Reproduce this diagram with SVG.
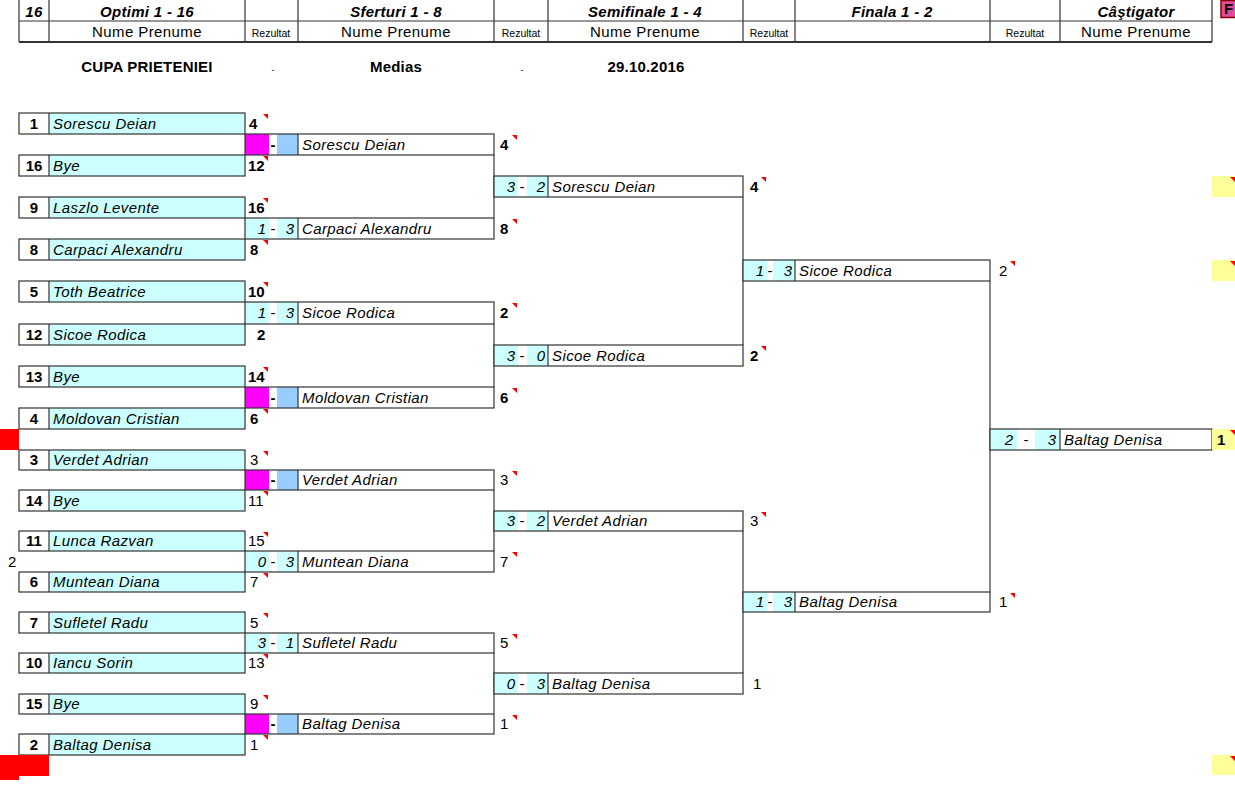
<svg xmlns="http://www.w3.org/2000/svg" xmlns:xlink="http://www.w3.org/1999/xlink" width="1235" height="800" viewBox="0 0 1235 800">
<style>
text{font-family:"Liberation Sans",Arial,sans-serif;fill:#000}
.hd{font-size:15px;font-weight:bold;font-style:italic;text-anchor:middle;letter-spacing:0.3px}
.np{font-size:15px;text-anchor:middle;letter-spacing:0.4px}
.rz{font-size:10.5px;text-anchor:middle}
.tt{font-size:15px;font-weight:bold;text-anchor:middle;letter-spacing:0.2px}
.seed{font-size:15px;font-weight:bold;text-anchor:middle}
.nm{font-size:15px;font-style:italic;letter-spacing:0.4px}
.rb{font-size:15px;font-weight:bold}
.rn{font-size:15px}
.sc{font-size:15px;font-style:italic;text-anchor:end}
.ds{font-size:15px;text-anchor:middle}
.dsb{font-size:15px;font-weight:bold;text-anchor:middle}
.bx{fill:none;stroke:#333;stroke-width:1.2}
.ln{stroke:#333;stroke-width:1.2}
.cn{stroke:#555;stroke-width:1.4;fill:none}
.cy{fill:#CCFFFF}
.mg{fill:#FF00FF}
.lb{fill:#99CCFF}
.ye{fill:#FFFF99}
.rd{fill:#FF0000}
</style>
<defs>
<polygon id="mk" points="-6,1 -1,1 -1,6" fill="#FF0000"/>
</defs>
<rect width="1235" height="800" fill="#fff"/>

<g id="header">
<line class="ln" x1="19" y1="21" x2="1212" y2="21"/>
<line x1="19" y1="42" x2="1212" y2="42" stroke="#333" stroke-width="2"/>
<g class="ln">
<line x1="19" y1="0" x2="19" y2="42"/><line x1="49" y1="0" x2="49" y2="42"/>
<line x1="245" y1="0" x2="245" y2="42"/><line x1="298" y1="0" x2="298" y2="42"/>
<line x1="494" y1="0" x2="494" y2="42"/><line x1="548" y1="0" x2="548" y2="42"/>
<line x1="743" y1="0" x2="743" y2="42"/><line x1="795" y1="0" x2="795" y2="42"/>
<line x1="990" y1="0" x2="990" y2="42"/><line x1="1060" y1="0" x2="1060" y2="42"/>
<line x1="1212" y1="0" x2="1212" y2="42"/>
</g>
<text class="hd" x="34" y="17">16</text>
<text class="hd" x="147" y="17">Optimi 1 - 16</text>
<text class="hd" x="396" y="17">Sferturi 1 - 8</text>
<text class="hd" x="645" y="17">Semifinale 1 - 4</text>
<text class="hd" x="892" y="17">Finala 1 - 2</text>
<text class="hd" x="1136" y="17">Câştigator</text>
<text class="np" x="147" y="37">Nume Prenume</text>
<text class="rz" x="271" y="37">Rezultat</text>
<text class="np" x="396" y="37">Nume Prenume</text>
<text class="rz" x="521" y="37">Rezultat</text>
<text class="np" x="645" y="37">Nume Prenume</text>
<text class="rz" x="769" y="37">Rezultat</text>
<text class="rz" x="1025" y="37">Rezultat</text>
<text class="np" x="1136" y="37">Nume Prenume</text>
</g>

<g id="fbutton">
<rect x="1221" y="0.5" width="16" height="17" fill="#E04C9C" stroke="#8B0000" stroke-width="1.5"/>
<text x="1224" y="14" font-size="15" font-weight="bold">F</text>
</g>

<g id="title">
<text class="tt" x="147" y="72">CUPA PRIETENIEI</text>
<text x="273" y="73" font-size="9" text-anchor="middle">-</text>
<text class="tt" x="396" y="72">Medias</text>
<text x="522" y="73" font-size="9" text-anchor="middle">-</text>
<text class="tt" x="646" y="72">29.10.2016</text>
</g>

<g id="connectors" class="cn">
<line x1="494" y1="155" x2="494" y2="218"/>
<line x1="494" y1="324" x2="494" y2="387"/>
<line x1="494" y1="490" x2="494" y2="551"/>
<line x1="494" y1="653" x2="494" y2="714"/>
<line x1="743" y1="197" x2="743" y2="345"/>
<line x1="743" y1="531" x2="743" y2="673"/>
<line x1="990" y1="281" x2="990" y2="592"/>
</g>

<!-- Round 1 -->
<g id="r1-1"><rect class="cy" x="49" y="113" width="196" height="21"/><rect class="bx" x="19" y="113" width="226" height="21"/><line class="ln" x1="49" y1="113" x2="49" y2="134"/><text class="seed" x="34" y="129">1</text><text class="nm" x="53" y="129">Sorescu Deian</text><text class="rb" x="249" y="129">4</text><use xlink:href="#mk" x="269" y="113"/></g>
<g id="r1-16"><rect class="cy" x="49" y="155" width="196" height="21"/><rect class="bx" x="19" y="155" width="226" height="21"/><line class="ln" x1="49" y1="155" x2="49" y2="176"/><text class="seed" x="34" y="171">16</text><text class="nm" x="53" y="171">Bye</text><text class="rb" x="248" y="171">12</text><use xlink:href="#mk" x="269" y="155"/></g>
<g id="r1-9"><rect class="cy" x="49" y="197" width="196" height="21"/><rect class="bx" x="19" y="197" width="226" height="21"/><line class="ln" x1="49" y1="197" x2="49" y2="218"/><text class="seed" x="34" y="213">9</text><text class="nm" x="53" y="213">Laszlo Levente</text><text class="rb" x="248" y="213">16</text><use xlink:href="#mk" x="269" y="197"/></g>
<g id="r1-8"><rect class="cy" x="49" y="239" width="196" height="21"/><rect class="bx" x="19" y="239" width="226" height="21"/><line class="ln" x1="49" y1="239" x2="49" y2="260"/><text class="seed" x="34" y="255">8</text><text class="nm" x="53" y="255">Carpaci Alexandru</text><text class="rb" x="250" y="255">8</text><use xlink:href="#mk" x="269" y="239"/></g>
<g id="r1-5"><rect class="cy" x="49" y="281" width="196" height="21"/><rect class="bx" x="19" y="281" width="226" height="21"/><line class="ln" x1="49" y1="281" x2="49" y2="302"/><text class="seed" x="34" y="297">5</text><text class="nm" x="53" y="297">Toth Beatrice</text><text class="rb" x="248" y="297">10</text><use xlink:href="#mk" x="269" y="281"/></g>
<g id="r1-12"><rect class="cy" x="49" y="324" width="196" height="21"/><rect class="bx" x="19" y="324" width="226" height="21"/><line class="ln" x1="49" y1="324" x2="49" y2="345"/><text class="seed" x="34" y="340">12</text><text class="nm" x="53" y="340">Sicoe Rodica</text><text class="rb" x="257" y="340">2</text></g>
<g id="r1-13"><rect class="cy" x="49" y="366" width="196" height="21"/><rect class="bx" x="19" y="366" width="226" height="21"/><line class="ln" x1="49" y1="366" x2="49" y2="387"/><text class="seed" x="34" y="382">13</text><text class="nm" x="53" y="382">Bye</text><text class="rb" x="248" y="382">14</text><use xlink:href="#mk" x="269" y="366"/></g>
<g id="r1-4"><rect class="cy" x="49" y="408" width="196" height="21"/><rect class="bx" x="19" y="408" width="226" height="21"/><line class="ln" x1="49" y1="408" x2="49" y2="429"/><text class="seed" x="34" y="424">4</text><text class="nm" x="53" y="424">Moldovan Cristian</text><text class="rb" x="250" y="424">6</text><use xlink:href="#mk" x="269" y="408"/></g>
<g id="r1-3"><rect class="cy" x="49" y="450" width="196" height="20"/><rect class="bx" x="19" y="450" width="226" height="20"/><line class="ln" x1="49" y1="450" x2="49" y2="470"/><text class="seed" x="34" y="465">3</text><text class="nm" x="53" y="465">Verdet Adrian</text><text class="rn" x="250" y="465">3</text><use xlink:href="#mk" x="269" y="450"/></g>
<g id="r1-14"><rect class="cy" x="49" y="490" width="196" height="21"/><rect class="bx" x="19" y="490" width="226" height="21"/><line class="ln" x1="49" y1="490" x2="49" y2="511"/><text class="seed" x="34" y="506">14</text><text class="nm" x="53" y="506">Bye</text><text class="rn" x="248" y="506">11</text><use xlink:href="#mk" x="269" y="490"/></g>
<g id="r1-11"><rect class="cy" x="49" y="531" width="196" height="20"/><rect class="bx" x="19" y="531" width="226" height="20"/><line class="ln" x1="49" y1="531" x2="49" y2="551"/><text class="seed" x="34" y="546">11</text><text class="nm" x="53" y="546">Lunca Razvan</text><text class="rn" x="248" y="546">15</text><use xlink:href="#mk" x="269" y="531"/></g>
<g id="r1-6"><rect class="cy" x="49" y="572" width="196" height="20"/><rect class="bx" x="19" y="572" width="226" height="20"/><line class="ln" x1="49" y1="572" x2="49" y2="592"/><text class="seed" x="34" y="587">6</text><text class="nm" x="53" y="587">Muntean Diana</text><text class="rn" x="250" y="587">7</text><use xlink:href="#mk" x="269" y="572"/></g>
<g id="r1-7"><rect class="cy" x="49" y="612" width="196" height="21"/><rect class="bx" x="19" y="612" width="226" height="21"/><line class="ln" x1="49" y1="612" x2="49" y2="633"/><text class="seed" x="34" y="628">7</text><text class="nm" x="53" y="628">Sufletel Radu</text><text class="rn" x="250" y="628">5</text><use xlink:href="#mk" x="269" y="612"/></g>
<g id="r1-10"><rect class="cy" x="49" y="653" width="196" height="20"/><rect class="bx" x="19" y="653" width="226" height="20"/><line class="ln" x1="49" y1="653" x2="49" y2="673"/><text class="seed" x="34" y="668">10</text><text class="nm" x="53" y="668">Iancu Sorin</text><text class="rn" x="248" y="668">13</text><use xlink:href="#mk" x="269" y="653"/></g>
<g id="r1-15"><rect class="cy" x="49" y="694" width="196" height="20"/><rect class="bx" x="19" y="694" width="226" height="20"/><line class="ln" x1="49" y1="694" x2="49" y2="714"/><text class="seed" x="34" y="709">15</text><text class="nm" x="53" y="709">Bye</text><text class="rn" x="250" y="709">9</text><use xlink:href="#mk" x="269" y="694"/></g>
<g id="r1-2"><rect class="cy" x="49" y="734" width="196" height="21"/><rect class="bx" x="19" y="734" width="226" height="21"/><line class="ln" x1="49" y1="734" x2="49" y2="755"/><text class="seed" x="34" y="750">2</text><text class="nm" x="53" y="750">Baltag Denisa</text><text class="rn" x="250" y="750">1</text><use xlink:href="#mk" x="269" y="734"/></g>

<!-- Sferturi -->
<g id="qf1"><rect class="mg" x="245" y="134" width="24" height="21"/><rect class="lb" x="277" y="134" width="21" height="21"/><rect class="bx" x="245" y="134" width="249" height="21"/><line class="ln" x1="298" y1="134" x2="298" y2="155"/><text class="dsb" x="273" y="150">-</text><text class="nm" x="302" y="150">Sorescu Deian</text><text class="rb" x="500" y="150">4</text><use xlink:href="#mk" x="518" y="134"/></g>
<g id="qf2"><rect class="cy" x="245" y="218" width="24" height="21"/><rect class="cy" x="277" y="218" width="21" height="21"/><rect class="bx" x="245" y="218" width="249" height="21"/><line class="ln" x1="298" y1="218" x2="298" y2="239"/><text class="sc" x="266" y="234">1</text><text class="ds" x="273" y="234">-</text><text class="sc" x="294" y="234">3</text><text class="nm" x="302" y="234">Carpaci Alexandru</text><text class="rb" x="500" y="234">8</text><use xlink:href="#mk" x="518" y="218"/></g>
<g id="qf3"><rect class="cy" x="245" y="302" width="24" height="22"/><rect class="cy" x="277" y="302" width="21" height="22"/><rect class="bx" x="245" y="302" width="249" height="22"/><line class="ln" x1="298" y1="302" x2="298" y2="324"/><text class="sc" x="266" y="318">1</text><text class="ds" x="273" y="318">-</text><text class="sc" x="294" y="318">3</text><text class="nm" x="302" y="318">Sicoe Rodica</text><text class="rb" x="500" y="318">2</text><use xlink:href="#mk" x="518" y="302"/></g>
<g id="qf4"><rect class="mg" x="245" y="387" width="24" height="21"/><rect class="lb" x="277" y="387" width="21" height="21"/><rect class="bx" x="245" y="387" width="249" height="21"/><line class="ln" x1="298" y1="387" x2="298" y2="408"/><text class="dsb" x="273" y="403">-</text><text class="nm" x="302" y="403">Moldovan Cristian</text><text class="rb" x="500" y="403">6</text><use xlink:href="#mk" x="518" y="387"/></g>
<g id="qf5"><rect class="mg" x="245" y="470" width="24" height="20"/><rect class="lb" x="277" y="470" width="21" height="20"/><rect class="bx" x="245" y="470" width="249" height="20"/><line class="ln" x1="298" y1="470" x2="298" y2="490"/><text class="dsb" x="273" y="485">-</text><text class="nm" x="302" y="485">Verdet Adrian</text><text class="rn" x="500" y="485">3</text><use xlink:href="#mk" x="518" y="470"/></g>
<g id="qf6"><rect class="cy" x="245" y="551" width="24" height="21"/><rect class="cy" x="277" y="551" width="21" height="21"/><rect class="bx" x="245" y="551" width="249" height="21"/><line class="ln" x1="298" y1="551" x2="298" y2="572"/><text class="sc" x="266" y="567">0</text><text class="ds" x="273" y="567">-</text><text class="sc" x="294" y="567">3</text><text class="nm" x="302" y="567">Muntean Diana</text><text class="rn" x="500" y="567">7</text><use xlink:href="#mk" x="518" y="551"/></g>
<g id="qf7"><rect class="cy" x="245" y="633" width="24" height="20"/><rect class="cy" x="277" y="633" width="21" height="20"/><rect class="bx" x="245" y="633" width="249" height="20"/><line class="ln" x1="298" y1="633" x2="298" y2="653"/><text class="sc" x="266" y="648">3</text><text class="ds" x="273" y="648">-</text><text class="sc" x="294" y="648">1</text><text class="nm" x="302" y="648">Sufletel Radu</text><text class="rn" x="500" y="648">5</text><use xlink:href="#mk" x="518" y="633"/></g>
<g id="qf8"><rect class="mg" x="245" y="714" width="24" height="20"/><rect class="lb" x="277" y="714" width="21" height="20"/><rect class="bx" x="245" y="714" width="249" height="20"/><line class="ln" x1="298" y1="714" x2="298" y2="734"/><text class="dsb" x="273" y="729">-</text><text class="nm" x="302" y="729">Baltag Denisa</text><text class="rn" x="500" y="729">1</text><use xlink:href="#mk" x="518" y="714"/></g>

<!-- Semifinale -->
<g id="sf1"><rect class="cy" x="494" y="176" width="24" height="21"/><rect class="cy" x="527" y="176" width="21" height="21"/><rect class="bx" x="494" y="176" width="249" height="21"/><line class="ln" x1="548" y1="176" x2="548" y2="197"/><text class="sc" x="515" y="192">3</text><text class="ds" x="522" y="192">-</text><text class="sc" x="545" y="192">2</text><text class="nm" x="552" y="192">Sorescu Deian</text><text class="rb" x="750" y="192">4</text><use xlink:href="#mk" x="767" y="176"/></g>
<g id="sf2"><rect class="cy" x="494" y="345" width="24" height="21"/><rect class="cy" x="527" y="345" width="21" height="21"/><rect class="bx" x="494" y="345" width="249" height="21"/><line class="ln" x1="548" y1="345" x2="548" y2="366"/><text class="sc" x="515" y="361">3</text><text class="ds" x="522" y="361">-</text><text class="sc" x="545" y="361">0</text><text class="nm" x="552" y="361">Sicoe Rodica</text><text class="rb" x="750" y="361">2</text><use xlink:href="#mk" x="767" y="345"/></g>
<g id="sf3"><rect class="cy" x="494" y="511" width="24" height="20"/><rect class="cy" x="527" y="511" width="21" height="20"/><rect class="bx" x="494" y="511" width="249" height="20"/><line class="ln" x1="548" y1="511" x2="548" y2="531"/><text class="sc" x="515" y="526">3</text><text class="ds" x="522" y="526">-</text><text class="sc" x="545" y="526">2</text><text class="nm" x="552" y="526">Verdet Adrian</text><text class="rn" x="750" y="526">3</text><use xlink:href="#mk" x="767" y="511"/></g>
<g id="sf4"><rect class="cy" x="494" y="673" width="24" height="21"/><rect class="cy" x="527" y="673" width="21" height="21"/><rect class="bx" x="494" y="673" width="249" height="21"/><line class="ln" x1="548" y1="673" x2="548" y2="694"/><text class="sc" x="515" y="689">0</text><text class="ds" x="522" y="689">-</text><text class="sc" x="545" y="689">3</text><text class="nm" x="552" y="689">Baltag Denisa</text><text class="rn" x="753" y="689">1</text></g>

<!-- Finala 1-2 -->
<g id="f1"><rect class="cy" x="743" y="260" width="24" height="21"/><rect class="cy" x="773" y="260" width="22" height="21"/><rect class="bx" x="743" y="260" width="247" height="21"/><line class="ln" x1="795" y1="260" x2="795" y2="281"/><text class="sc" x="764" y="276">1</text><text class="ds" x="770" y="276">-</text><text class="sc" x="792" y="276">3</text><text class="nm" x="799" y="276">Sicoe Rodica</text><text class="rn" x="999" y="276">2</text><use xlink:href="#mk" x="1016" y="260"/></g>
<g id="f2"><rect class="cy" x="743" y="592" width="24" height="20"/><rect class="cy" x="773" y="592" width="22" height="20"/><rect class="bx" x="743" y="592" width="247" height="20"/><line class="ln" x1="795" y1="592" x2="795" y2="612"/><text class="sc" x="764" y="607">1</text><text class="ds" x="770" y="607">-</text><text class="sc" x="792" y="607">3</text><text class="nm" x="799" y="607">Baltag Denisa</text><text class="rn" x="999" y="607">1</text><use xlink:href="#mk" x="1016" y="592"/></g>

<!-- Final -->
<g id="final"><rect class="cy" x="990" y="429" width="27" height="21"/><rect class="cy" x="1035" y="429" width="25" height="21"/><rect class="bx" x="990" y="429" width="222" height="21"/><line class="ln" x1="1060" y1="429" x2="1060" y2="450"/><text class="sc" x="1013" y="445">2</text><text class="ds" x="1026" y="445">-</text><text class="sc" x="1056" y="445">3</text><text class="nm" x="1064" y="445">Baltag Denisa</text></g>
<g id="winner"><rect class="ye" x="1212" y="429" width="23" height="21"/><text class="rb" x="1217" y="445">1</text><use xlink:href="#mk" x="1236" y="429"/></g>

<g id="yellow-cells">
<rect class="ye" x="1212" y="176" width="23" height="21"/><use xlink:href="#mk" x="1236" y="176"/>
<rect class="ye" x="1212" y="260" width="23" height="21"/><use xlink:href="#mk" x="1236" y="260"/>
<rect class="ye" x="1212" y="755" width="23" height="20"/><use xlink:href="#mk" x="1236" y="755"/>
</g>

<g id="red-cells">
<rect class="rd" x="0" y="429" width="19" height="21"/>
<rect class="rd" x="0" y="755" width="49" height="21"/>
<rect class="rd" x="0" y="775" width="19" height="5"/>
</g>

<text class="rn" x="8" y="567">2</text>
</svg>
